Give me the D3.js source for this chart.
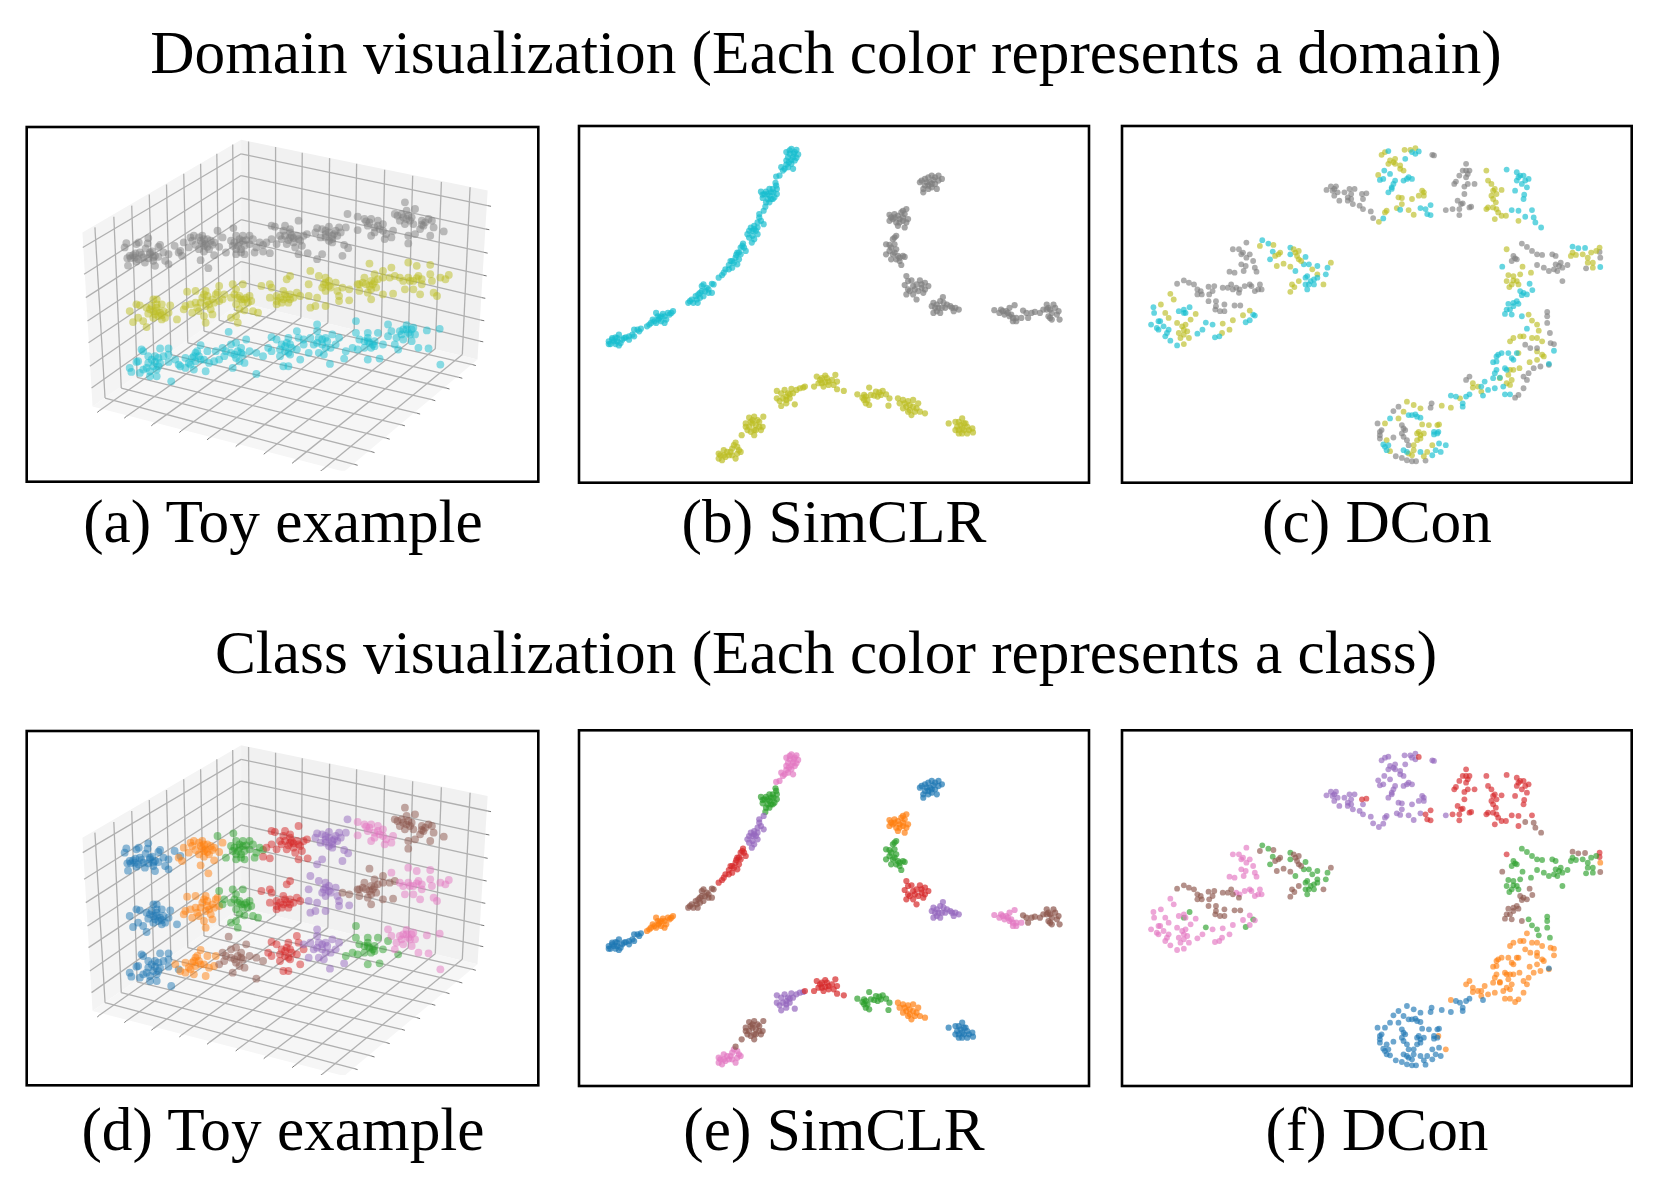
<!DOCTYPE html>
<html><head><meta charset="utf-8">
<script src="https://cdn.jsdelivr.net/npm/d3@7"></script>
<style>html,body{margin:0;padding:0;background:#fff}svg{display:block}text{font-family:"Liberation Serif",serif;fill:#000}</style>
</head><body><div id="chart"></div>
<script>
// tab10 colours by name
const palette={blue:"#1f77b4",orange:"#ff7f0e",green:"#2ca02c",red:"#d62728",purple:"#9467bd",brown:"#8c564b",pink:"#e377c2",gray:"#7f7f7f",olive:"#bcbd22",cyan:"#17becf"};
const titles=["Domain visualization (Each color represents a domain)","Class visualization (Each color represents a class)"];
const captions=["(a) Toy example","(b) SimCLR","(c) DCon","(d) Toy example","(e) SimCLR","(f) DCon"];

// ---- Toy example: points, named domain_class
const toy_gray_blue=[[315,367],[310,380],[345,370],[352,365],[380,352],[378,368],[335,403],[318,412],[325,405],[340,410],[355,395],[372,383],[385,395],[395,410],[410,378],[415,372],[425,395],[440,400],[458,375],[475,390],[320,434],[345,422],[370,425],[395,420],[400,435],[430,420],[440,430],[385,400],[400,405],[365,410],[350,415],[380,412],[392,392],[342,398],[328,412],[410,408],[360,402]];
const toy_gray_orange=[[485,365],[505,350],[515,345],[540,345],[555,355],[575,365],[500,380],[520,372],[545,375],[560,385],[535,360],[550,370],[530,385],[480,405],[535,418],[575,403],[558,442],[600,350],[590,378],[510,360],[570,372],[545,392],[470,395],[540,368],[555,378],[530,350],[565,360],[545,355]];
const toy_gray_green=[[632,322],[585,330],[640,345],[660,345],[680,345],[690,355],[650,365],[665,375],[630,375],[640,385],[680,370],[710,365],[720,372],[610,395],[640,400],[665,400],[695,395],[700,380],[655,395],[625,360],[650,355],[660,360],[645,375],[670,358],[655,385],[635,365]];
const toy_gray_red=[[745,315],[755,318],[785,315],[825,300],[800,325],[770,345],[745,355],[785,345],[800,350],[820,345],[840,345],[830,360],[810,365],[790,370],[760,370],[730,365],[720,392],[740,397],[825,400],[852,397],[835,375],[815,380],[800,335],[780,330],[850,340],[805,345],[795,358],[825,355],[810,352],[775,355]];
const toy_gray_purple=[[880,322],[895,325],[915,318],[945,320],[965,320],[970,280],[905,340],[925,345],[940,345],[950,335],[915,360],[925,365],[890,350],[875,335],[960,372],[972,382],[955,405],[895,400],[880,415],[905,350],[935,330],[915,335],[925,355],[905,330],[930,340]];
const toy_gray_pink=[[1000,288],[1020,295],[1040,295],[1060,300],[1075,310],[1000,328],[1030,315],[1050,320],[1065,325],[1085,340],[1040,345],[1050,335],[1080,355],[1100,350],[1105,330],[1035,305],[1060,315],[1025,302],[1075,330]];
const toy_gray_brown=[[1140,245],[1118,285],[1145,270],[1170,265],[1110,280],[1135,290],[1150,285],[1160,290],[1190,300],[1210,295],[1220,300],[1195,315],[1185,325],[1225,320],[1255,332],[1215,345],[1170,340],[1150,345],[1150,368],[1140,310],[1125,300],[1165,310],[1145,295],[1130,280],[1155,300],[1200,305],[1190,312]];
const toy_olive_blue=[[325,570],[345,550],[355,553],[395,535],[405,535],[375,560],[390,555],[405,560],[420,550],[445,553],[400,580],[415,575],[425,570],[440,575],[380,578],[395,590],[420,595],[430,590],[335,603],[350,590],[365,600],[375,618],[465,595],[405,570],[410,585],[395,570],[385,565],[420,582],[405,550]];
const toy_olive_orange=[[495,512],[520,510],[550,510],[580,520],[490,555],[505,550],[520,545],[540,530],[555,540],[575,545],[590,540],[530,570],[510,575],[485,565],[550,555],[565,565],[550,605],[570,580],[545,585],[585,515],[555,525],[570,535],[535,545],[560,550],[525,560],[545,520]];
const toy_olive_green=[[590,495],[630,490],[660,490],[640,505],[600,535],[625,530],[650,525],[670,530],[685,540],[660,545],[640,550],[650,565],[665,568],[690,570],[705,575],[640,585],[625,590],[645,605],[605,520],[680,525],[655,535],[645,530],[665,535],[635,520],[675,545]];
const toy_olive_red=[[715,495],[740,490],[800,465],[790,475],[740,530],[760,525],[780,510],[800,520],[820,515],[795,545],[775,545],[760,550],[810,530],[830,525],[745,500],[790,530],[785,520],[770,530],[800,535],[780,535],[760,540]];
const toy_olive_purple=[[860,450],[885,465],[905,470],[900,490],[915,495],[935,485],[855,490],[855,525],[880,530],[875,555],[905,555],[940,510],[945,525],[975,538],[860,560],[905,510],[920,500],[905,485],[915,480],[895,500],[945,540]];
const toy_olive_brown=[[1035,428],[1050,460],[1075,450],[1020,470],[1005,490],[1040,480],[1060,475],[1075,470],[1040,505],[1055,500],[1030,515],[1005,510],[975,505],[955,500],[1000,490],[1040,535],[1075,520],[1105,518],[1095,470],[1110,465],[1045,490],[1035,495],[1025,490],[1015,485],[1050,482]];
const toy_olive_pink=[[1100,440],[1150,425],[1175,435],[1215,432],[1125,470],[1150,470],[1180,465],[1190,475],[1215,460],[1245,470],[1270,462],[1220,480],[1190,490],[1140,505],[1165,505],[1185,520],[1225,515],[1235,525],[1155,480],[1260,475],[1175,472],[1165,480],[1135,480]];
const toy_cyan_blue=[[360,685],[415,682],[440,682],[365,690],[345,722],[325,740],[330,752],[350,720],[380,705],[400,705],[410,710],[425,705],[440,700],[380,725],[395,735],[415,725],[405,745],[365,745],[385,765],[405,765],[355,755],[448,780],[470,730],[440,722],[375,740],[400,722],[390,715],[410,735],[385,750]];
const toy_cyan_orange=[[535,672],[555,690],[490,710],[520,695],[530,705],[510,710],[500,725],[520,720],[545,715],[560,725],[575,720],[475,735],[490,740],[515,745],[550,750],[580,690],[460,715],[515,705],[525,690],[535,715],[505,730]];
const toy_cyan_brown=[[618,632],[600,680],[625,670],[640,665],[670,655],[655,680],[625,695],[640,710],[660,700],[680,690],[700,695],[720,705],[605,705],[590,715],[630,740],[665,725],[700,758],[650,720],[610,690],[645,690],[635,700],[655,695]];
const toy_cyan_red=[[745,648],[760,655],[795,650],[820,630],[825,650],[775,670],[800,670],[785,690],[770,705],[800,700],[745,690],[830,715],[795,735],[780,735],[820,685],[840,670],[735,680],[790,665],[805,680],[785,675],[770,685],[795,695]];
const toy_cyan_purple=[[880,610],[880,630],[860,650],[885,650],[905,650],[925,640],[945,650],[870,670],[895,670],[920,680],[885,695],[900,700],[855,695],[935,670],[960,712],[918,728],[840,655],[910,660],[880,665],[895,655],[905,680]];
const toy_cyan_green=[[995,600],[995,635],[1030,635],[1060,635],[1005,655],[1030,660],[1050,660],[1040,680],[1020,680],[1000,685],[965,690],[1030,715],[1065,712],[1090,645],[1075,670],[1120,685],[985,680],[1050,675],[1035,665],[1020,660],[1045,670],[1030,650]];
const toy_cyan_pink=[[1090,610],[1145,612],[1160,625],[1205,628],[1243,623],[1100,630],[1125,630],[1150,635],[1170,640],[1115,650],[1135,655],[1160,660],[1180,680],[1210,682],[1245,730],[1110,670],[1145,625],[1135,625],[1155,640],[1130,640],[1165,620]];

// ---- SimCLR embedding
const sim_cyan_pink=[[655,85],[640,95],[665,95],[675,102],[645,110],[660,110],[640,120],[665,120],[655,130],[650,100],[660,145],[645,140],[625,140],[630,150],[620,165],[610,168],[650,90],[670,88],[662,100],[648,125],[655,118],[670,112],[635,145],[640,132]];
const sim_cyan_green=[[608,187],[565,213],[580,213],[600,205],[612,205],[612,220],[590,225],[570,232],[600,235],[580,245],[578,258],[595,215],[585,220],[605,230],[590,205],[575,220],[595,235],[602,215],[585,235],[590,245],[570,222],[610,195]];
const sim_cyan_purple=[[573,270],[560,290],[555,305],[573,310],[545,315],[530,330],[550,330],[540,345],[525,340],[545,355],[538,365],[535,320],[565,300],[555,320],[540,330],[530,350],[555,340],[545,325],[560,280]];
const sim_cyan_red=[[512,368],[505,380],[520,390],[495,395],[490,410],[500,415],[480,420],[470,432],[495,430],[480,440],[460,445],[450,462],[440,470],[510,375],[500,395],[485,425],[475,420],[492,402],[505,400],[470,445],[455,455],[515,380]];
const sim_cyan_brown=[[420,488],[395,490],[405,500],[390,510],[380,520],[410,515],[375,535],[360,535],[385,530],[395,525],[350,545],[420,515],[365,545],[400,510],[385,515],[372,525],[355,540],[410,505],[390,495],[425,490],[378,545]];
const sim_cyan_orange=[[305,570],[255,575],[275,578],[295,580],[265,590],[245,595],[285,595],[255,605],[235,610],[280,605],[270,585],[228,615],[260,585],[250,600],[240,605],[290,575],[270,600],[262,595],[300,575],[280,585]];
const sim_cyan_blue=[[210,622],[190,625],[205,630],[175,645],[190,645],[160,650],[145,640],[125,655],[140,660],[115,660],[150,665],[135,648],[175,655],[120,668],[145,672],[130,660],[125,650],[140,650],[155,655],[165,648],[185,640],[115,668],[200,625],[135,668]];
const sim_gray_blue=[[1090,165],[1070,165],[1100,175],[1050,175],[1035,185],[1065,185],[1080,190],[1050,195],[1070,200],[1085,205],[1045,215],[1060,205],[1055,185],[1075,178],[1090,180],[1060,170],[1070,190],[1045,205],[1080,170],[1060,195],[1040,180]];
const sim_gray_orange=[[995,265],[980,275],[945,282],[960,290],[975,295],[1000,295],[945,300],[965,305],[985,300],[970,315],[990,320],[985,270],[955,295],[990,280],[970,285],[950,290],[985,290],[960,280],[995,305],[975,305]];
const sim_gray_green=[[965,345],[955,355],[935,370],[950,380],[965,385],[935,400],[955,400],[970,405],[990,408],[950,415],[975,420],[980,432],[960,370],[945,390],[960,395],[945,372],[975,410],[985,405],[965,415],[960,350]];
const sim_gray_red=[[995,465],[1010,478],[1035,478],[1050,485],[990,492],[1015,495],[1040,500],[1060,495],[995,520],[1015,520],[1045,515],[1025,535],[1030,510],[1025,490],[1000,505],[1040,490],[1005,510],[1020,505],[1050,505],[1000,480]];
const sim_gray_purple=[[1103,528],[1075,545],[1095,540],[1115,550],[1090,560],[1070,555],[1075,575],[1095,575],[1130,560],[1150,565],[1135,570],[1110,560],[1085,550],[1100,560],[1085,570],[1105,545],[1125,555],[1140,560],[1080,560]];
const sim_gray_pink=[[1255,567],[1275,565],[1300,560],[1315,552],[1285,580],[1300,585],[1320,590],[1335,590],[1310,600],[1290,570],[1270,575],[1295,575],[1310,590],[1320,600],[1280,570],[1305,580]];
const sim_gray_brown=[[1340,568],[1365,575],[1390,575],[1410,550],[1430,550],[1420,565],[1445,570],[1415,585],[1425,595],[1448,595],[1355,590],[1400,565],[1435,560],[1415,560],[1440,580],[1425,575],[1410,565],[1375,572],[1350,575],[1420,590]];
const sim_olive_pink=[[440,995],[455,985],[470,1000],[450,1015],[440,1010],[490,1010],[505,990],[475,990],[460,1005],[495,975],[480,980],[445,1000],[465,990],[480,1000],[495,995],[485,970],[455,1000],[500,985]];
const sim_olive_brown=[[530,888],[545,885],[572,885],[520,905],[540,905],[560,900],[570,915],[525,925],[545,925],[565,925],[545,940],[490,962],[508,940],[550,910],[535,900],[555,895],[530,915],[550,925],[560,915],[535,930],[540,895],[520,915]];
const sim_olive_purple=[[612,808],[635,805],[655,802],[612,830],[640,825],[625,853],[640,835],[650,830],[665,848],[670,805],[690,798],[625,815],[650,818],[630,830],[645,815],[640,845],[620,838],[660,815],[680,800]];
const sim_olive_red=[[695,795],[722,795],[730,765],[745,770],[760,770],[785,760],[745,785],[765,790],[790,780],[790,803],[810,808],[755,782],[740,775],[765,780],[775,775],[735,785],[750,795],[780,790],[755,762]];
const sim_olive_green=[[850,818],[870,820],[885,798],[880,835],[885,850],[905,810],[925,808],[910,825],[935,818],[945,830],[942,852],[870,835],[875,825],[890,820],[915,812],[900,822],[875,845],[865,828],[920,820]];
const sim_olive_orange=[[970,830],[975,845],[1000,838],[1015,835],[1030,845],[985,860],[1005,865],[1025,860],[1010,880],[1050,875],[1035,870],[990,845],[1005,850],[1020,870],[995,855],[1015,855],[1000,870],[985,835]];
const sim_olive_blue=[[1120,905],[1140,900],[1160,890],[1170,905],[1140,925],[1160,920],[1190,920],[1150,935],[1175,935],[1192,932],[1165,905],[1155,910],[1150,900],[1165,925],[1145,915],[1180,925],[1160,935],[1175,915],[1150,925]];

// ---- DCon embedding
const dc_gray_purple=[[945,105],[940,103],[627,208],[640,197],[655,197],[645,210],[650,225],[665,240],[695,205],[710,205],[700,220],[680,215],[690,240],[705,250],[725,255],[735,265],[758,272],[765,292],[690,230],[660,215],[980,268],[700,235],[650,205],[735,235]];
const dc_olive_purple=[[790,103],[800,95],[858,88],[875,88],[890,83],[830,115],[810,130],[830,130],[845,145],[855,150],[780,163],[850,232],[840,230],[850,250],[835,262],[880,235],[805,270],[800,275],[870,268],[885,282],[782,303],[910,210],[900,225],[915,225],[825,125],[815,120],[845,135],[915,215]];
const dc_cyan_purple=[[810,92],[880,95],[860,115],[890,100],[798,150],[815,160],[785,178],[830,180],[825,190],[855,180],[870,170],[880,175],[810,215],[820,205],[795,293],[845,267],[905,262],[820,200],[865,175],[795,175]];
const dc_gray_red=[[1040,130],[1030,150],[1050,150],[1020,165],[1040,170],[1010,183],[1005,190],[1045,190],[1065,190],[1035,198],[1035,220],[1015,240],[1030,248],[1050,260],[1020,265],[1020,283],[1000,265],[732,220],[745,218],[1435,393],[1045,160],[1040,150],[1025,250],[1055,258]];
const dc_olive_red=[[1100,150],[1105,180],[1115,190],[1120,210],[1130,220],[1145,208],[1120,235],[1105,260],[1120,260],[1135,275],[1125,295],[1158,285],[1195,300],[1100,265],[1160,385],[1435,380],[1125,205],[1115,225],[1128,245],[1130,265],[1145,285]];
const dc_cyan_red=[[1160,147],[1190,155],[1210,165],[1190,180],[1225,175],[1205,190],[1220,200],[1185,210],[1210,235],[1175,268],[1195,270],[1235,268],[935,253],[920,265],[925,280],[935,283],[900,93],[1200,165],[1215,180],[1195,170],[1212,222]];
const dc_cyan_brown=[[1215,288],[1240,290],[1245,305],[1262,320],[1355,377],[1372,382],[1392,381],[1437,438],[1147,437],[1228,488],[1236,507],[1200,510],[1220,520],[1205,522],[1190,540],[1165,548],[1180,555],[1195,548],[1160,565],[1155,578],[1175,580],[1205,585],[1180,545],[1170,565],[1210,515]];
const dc_gray_green=[[1205,368],[1220,378],[1235,390],[1250,400],[1265,402],[1295,400],[1305,405],[1180,405],[1175,420],[1190,415],[1250,432],[1270,440],[1285,450],[1305,430],[1320,425],[1340,432],[1310,450],[1325,480],[1395,442],[1280,572],[1280,585],[1280,605],[1288,635],[1315,435],[1325,440],[1300,445],[1185,412]];
const dc_olive_green=[[1350,405],[1365,402],[1385,400],[1410,395],[1425,390],[1400,410],[1415,425],[1415,440],[1165,462],[1180,465],[1200,460],[1160,480],[1175,490],[1195,490],[1168,498],[1232,455],[1207,437],[1225,580],[1235,598],[1250,610],[1255,628],[585,445],[600,460],[1190,480],[1180,478],[1400,425],[1355,395]];
const dc_cyan_green=[[437,358],[455,368],[468,392],[460,415],[520,380],[520,400],[565,408],[535,450],[560,430],[575,430],[600,435],[630,440],[625,460],[570,465],[580,480],[600,470],[565,490],[590,490],[570,505],[222,558],[205,575],[270,604],[388,603],[410,580],[575,490],[590,475],[565,470]];
const dc_olive_orange=[[1170,660],[1180,650],[1200,645],[1210,645],[1235,650],[1265,660],[1250,690],[1270,705],[1250,715],[1228,722],[1195,695],[1170,745],[1180,745],[1165,760],[1160,785],[1170,790],[1140,770],[1060,785],[1075,795],[1085,810],[1060,798],[1175,775],[1198,740],[1250,650],[1265,700]];
const dc_gray_orange=[[1437,410],[1215,670],[1230,680],[1250,680],[1290,665],[1300,668],[1285,730],[1260,735],[1240,740],[1225,755],[1220,775],[1210,765],[1210,800],[1195,820],[1185,828],[1050,765],[1040,775]];
const dc_cyan_orange=[[1220,622],[1300,688],[1190,695],[1175,710],[1145,695],[1165,695],[1130,705],[1120,722],[1130,745],[1140,768],[1155,740],[1120,770],[1095,780],[1085,795],[1105,805],[1125,800],[1150,795],[1155,818],[1170,818],[958,930],[980,970],[995,822],[1130,720],[1125,755],[1135,700],[1180,715],[1160,745]];
const dc_gray_blue=[[840,855],[825,868],[938,845],[935,858],[778,905],[790,925],[785,940],[785,950],[825,947],[850,910],[860,925],[855,945],[865,955],[870,970],[832,1003],[850,1008],[865,1015],[880,1018],[892,1018],[920,1016],[855,920],[850,935],[785,930]];
const dc_olive_blue=[[1022,830],[968,852],[995,858],[865,840],[885,850],[905,860],[855,870],[840,890],[800,905],[805,955],[815,988],[885,970],[870,995],[880,1000],[910,908],[930,910],[960,908],[900,930],[915,935],[905,950],[895,955],[940,970],[925,990],[915,1003],[885,985],[905,940],[895,935],[955,910]];
const dc_cyan_blue=[[1010,825],[1040,825],[1050,818],[1030,845],[1030,855],[1090,822],[1285,727],[880,880],[895,885],[905,888],[870,880],[945,930],[955,935],[815,890],[795,968],[810,970],[805,985],[855,985],[865,990],[905,990],[940,1000],[960,965],[965,990],[950,985],[890,878],[945,938],[800,975]];
const dc_gray_pink=[[390,365],[350,385],[368,385],[375,400],[400,400],[390,410],[375,430],[388,435],[410,420],[415,440],[420,452],[340,452],[355,455],[382,450],[400,490],[385,495],[430,490],[435,505],[415,510],[370,505],[360,500],[425,505],[405,495],[380,395]];
const dc_gray_brown=[[185,488],[205,478],[220,485],[235,490],[245,505],[245,520],[258,520],[278,497],[295,495],[280,520],[278,540],[300,540],[325,550],[298,565],[312,570],[325,570],[320,500],[345,490],[350,505],[355,553],[372,553],[255,510],[290,510],[300,555],[335,500],[368,515]];
const dc_olive_brown=[[430,375],[470,372],[490,395],[475,405],[500,428],[480,435],[520,437],[530,385],[545,390],[540,405],[552,420],[525,490],[545,480],[520,512],[532,498],[618,490],[640,425],[535,395],[545,415],[485,400]];
const dc_olive_pink=[[165,518],[175,535],[137,550],[150,575],[160,590],[185,605],[210,610],[240,578],[225,595],[205,625],[190,635],[220,650],[205,668],[195,650],[320,607],[340,625],[350,597],[318,635],[400,568],[380,582],[205,640],[215,630],[200,615]];
const dc_cyan_pink=[[115,558],[117,575],[108,610],[130,600],[125,620],[145,615],[160,625],[150,645],[165,658],[185,672],[190,570],[205,565],[210,575],[260,625],[245,637],[297,648],[310,645],[290,610],[400,597],[415,583],[130,625],[135,600],[155,635]];

// ---- 3D box of the toy example: pane outlines and grid segments [x1,y1,x2,y2]
const paneLeft=[[185,335],[655,58],[655,545],[215,855]];
const paneBack=[[655,58],[1385,210],[1355,715],[655,545]];
const paneFloor=[[215,855],[655,545],[1355,715],[960,1050]];
const gridLeftV=[[222,320,252,830],[278,288,300,800],[331,255,347,768],[383,222,397,735],[434,192,447,700],[485,160,497,665],[535,130,545,630],[583,100,590,598],[630,72,635,567]];
const gridLeftH=[[186,380,655,100],[190,460,655,165],[195,530,655,232],[200,600,655,297],[203,665,655,360],[207,735,655,422],[212,800,655,483]];
const gridBackH=[[655,100,1385,255],[655,165,1380,325],[655,232,1375,395],[655,297,1372,463],[655,360,1368,530],[655,422,1365,597],[655,483,1362,660]];
const gridBackV=[[677,63,680,550],[757,80,757,568],[836,97,832,590],[917,113,912,605],[997,130,990,625],[1080,148,1070,645],[1163,166,1150,665],[1248,184,1230,683],[1333,200,1310,700]];
const gridFloorA=[[252,830,990,1028],[300,800,1040,990],[347,768,1085,950],[397,735,1130,910],[447,700,1175,875],[497,665,1220,835],[545,630,1262,800],[590,598,1300,768],[635,567,1340,730]];
const gridFloorB=[[680,550,235,868],[757,568,315,885],[832,590,395,908],[912,605,478,928],[990,625,560,950],[1070,645,645,970],[1150,665,728,993],[1230,683,812,1020],[1310,700,895,1045]];
const ticksZ=[[1385,255,1395,257],[1380,325,1390,327],[1375,395,1385,397],[1372,463,1382,465],[1368,530,1378,532],[1365,597,1375,599],[1362,660,1372,662]];
const ticksX=[[235,868,229,873],[315,885,309,890],[395,908,389,913],[478,928,472,933],[560,950,554,955],[645,970,639,975],[728,993,722,998],[812,1020,806,1025],[895,1045,889,1049]];
const ticksY=[[1340,730,1350,733],[1300,768,1310,771],[1262,800,1272,803],[1220,835,1230,838],[1175,875,1185,878],[1130,910,1140,913],[1085,950,1095,953],[1040,990,1050,993],[990,1028,1000,1031]];
const clipBottom=1047;

// groups: [points, domain colour, class colour]
const toyGroups=[[toy_gray_blue,"gray","blue"],[toy_gray_orange,"gray","orange"],[toy_gray_green,"gray","green"],[toy_gray_red,"gray","red"],[toy_gray_purple,"gray","purple"],[toy_gray_pink,"gray","pink"],[toy_gray_brown,"gray","brown"],
[toy_olive_blue,"olive","blue"],[toy_olive_orange,"olive","orange"],[toy_olive_green,"olive","green"],[toy_olive_red,"olive","red"],[toy_olive_purple,"olive","purple"],[toy_olive_brown,"olive","brown"],[toy_olive_pink,"olive","pink"],
[toy_cyan_blue,"cyan","blue"],[toy_cyan_orange,"cyan","orange"],[toy_cyan_brown,"cyan","brown"],[toy_cyan_red,"cyan","red"],[toy_cyan_purple,"cyan","purple"],[toy_cyan_green,"cyan","green"],[toy_cyan_pink,"cyan","pink"]];
const simGroups=[[sim_cyan_pink,"cyan","pink"],[sim_cyan_green,"cyan","green"],[sim_cyan_purple,"cyan","purple"],[sim_cyan_red,"cyan","red"],[sim_cyan_brown,"cyan","brown"],[sim_cyan_orange,"cyan","orange"],[sim_cyan_blue,"cyan","blue"],
[sim_gray_blue,"gray","blue"],[sim_gray_orange,"gray","orange"],[sim_gray_green,"gray","green"],[sim_gray_red,"gray","red"],[sim_gray_purple,"gray","purple"],[sim_gray_pink,"gray","pink"],[sim_gray_brown,"gray","brown"],
[sim_olive_pink,"olive","pink"],[sim_olive_brown,"olive","brown"],[sim_olive_purple,"olive","purple"],[sim_olive_red,"olive","red"],[sim_olive_green,"olive","green"],[sim_olive_orange,"olive","orange"],[sim_olive_blue,"olive","blue"]];
const dcGroups=[[dc_gray_purple,"gray","purple"],[dc_olive_purple,"olive","purple"],[dc_cyan_purple,"cyan","purple"],[dc_gray_red,"gray","red"],[dc_olive_red,"olive","red"],[dc_cyan_red,"cyan","red"],[dc_cyan_brown,"cyan","brown"],
[dc_gray_green,"gray","green"],[dc_olive_green,"olive","green"],[dc_cyan_green,"cyan","green"],[dc_olive_orange,"olive","orange"],[dc_gray_orange,"gray","orange"],[dc_cyan_orange,"cyan","orange"],
[dc_gray_blue,"gray","blue"],[dc_olive_blue,"olive","blue"],[dc_cyan_blue,"cyan","blue"],[dc_gray_pink,"gray","pink"],[dc_gray_brown,"gray","brown"],[dc_olive_brown,"olive","brown"],[dc_olive_pink,"olive","pink"],[dc_cyan_pink,"cyan","pink"]];

// panel table: domain extent read → frame on page
const panels=[
 {groups:toyGroups,colorBy:1,is3d:true, dx:[20,1535],dy:[20,1080],rx:[26.7,538.3],ry:[127,481.7],r:3.9,op:.5},
 {groups:simGroups,colorBy:1,is3d:false,dx:[27,1535],dy:[17,1082],rx:[579,1089],ry:[126,482.7],r:3.1,op:.7},
 {groups:dcGroups, colorBy:1,is3d:false,dx:[22,1530],dy:[17,1082],rx:[1122,1631.7],ry:[126,482.7],r:2.9,op:.65},
 {groups:toyGroups,colorBy:2,is3d:true, dx:[20,1535],dy:[15,1078],rx:[26.7,538.3],ry:[731,1085.3],r:3.9,op:.5},
 {groups:simGroups,colorBy:2,is3d:false,dx:[27,1535],dy:[13,1080],rx:[579,1089],ry:[730.3,1086],r:3.1,op:.7},
 {groups:dcGroups, colorBy:2,is3d:false,dx:[22,1530],dy:[13,1080],rx:[1122,1631.7],ry:[730.3,1086],r:2.9,op:.65}
];

const svg=d3.select("#chart").append("svg").attr("width",1661).attr("height",1185);
const defs=svg.append("defs");
defs.append("filter").attr("id","soft").attr("x","-5%").attr("y","-5%").attr("width","110%").attr("height","110%")
  .append("feGaussianBlur").attr("stdDeviation",.55);

const titlePos=[[826,73],[826,673]];
svg.selectAll("text.title").data(titles).join("text").attr("class","title")
  .attr("x",(d,i)=>titlePos[i][0]).attr("y",(d,i)=>titlePos[i][1])
  .attr("text-anchor","middle").attr("font-size",61.3).text(d=>d);
const capX=[283,834,1377,283,834,1377],capY=[542,542,542,1150,1150,1150];
svg.selectAll("text.cap").data(captions).join("text").attr("class","cap")
  .attr("x",(d,i)=>capX[i]).attr("y",(d,i)=>capY[i])
  .attr("text-anchor","middle").attr("font-size",61.3).text(d=>d);

panels.forEach((p,pi)=>{
  const x=d3.scaleLinear().domain(p.dx).range(p.rx);
  const y=d3.scaleLinear().domain(p.dy).range(p.ry);
  const g=svg.append("g").attr("filter","url(#soft)");
  if(p.is3d){
    const id="clip"+pi;
    defs.append("clipPath").attr("id",id).append("rect")
      .attr("x",p.rx[0]).attr("y",p.ry[0]).attr("width",p.rx[1]-p.rx[0]).attr("height",y(clipBottom)-p.ry[0]);
    const box=g.append("g").attr("clip-path",`url(#${id})`);
    const line=d3.line().x(d=>x(d[0])).y(d=>y(d[1]));
    [[paneLeft,"#f4f4f4"],[paneBack,"#f1f1f1"],[paneFloor,"#f6f6f6"]].forEach(([poly,c])=>{
      box.append("path").attr("d",line(poly)+"Z").attr("fill",c);
    });
    [gridLeftV,gridLeftH,gridBackH,gridBackV,gridFloorA,gridFloorB].forEach(seg=>{
      box.selectAll(null).data(seg).join("line")
        .attr("x1",d=>x(d[0])).attr("y1",d=>y(d[1])).attr("x2",d=>x(d[2])).attr("y2",d=>y(d[3]))
        .attr("stroke","#b0b0b0").attr("stroke-width",1.3);
    });
    [ticksZ,ticksX,ticksY].forEach(seg=>{
      box.selectAll(null).data(seg).join("line")
        .attr("x1",d=>x(d[0])).attr("y1",d=>y(d[1])).attr("x2",d=>x(d[2])).attr("y2",d=>y(d[3]))
        .attr("stroke","#555").attr("stroke-width",.8);
    });
  }
  p.groups.forEach(gr=>{
    g.selectAll(null).data(gr[0]).join("circle")
      .attr("cx",d=>x(d[0])).attr("cy",d=>y(d[1])).attr("r",p.r)
      .attr("fill",palette[gr[p.colorBy]]).attr("fill-opacity",p.op);
  });
  svg.append("rect").attr("x",p.rx[0]).attr("y",p.ry[0]).attr("width",p.rx[1]-p.rx[0]).attr("height",p.ry[1]-p.ry[0])
    .attr("fill","none").attr("stroke","#000").attr("stroke-width",2.6);
});
</script></body></html>
